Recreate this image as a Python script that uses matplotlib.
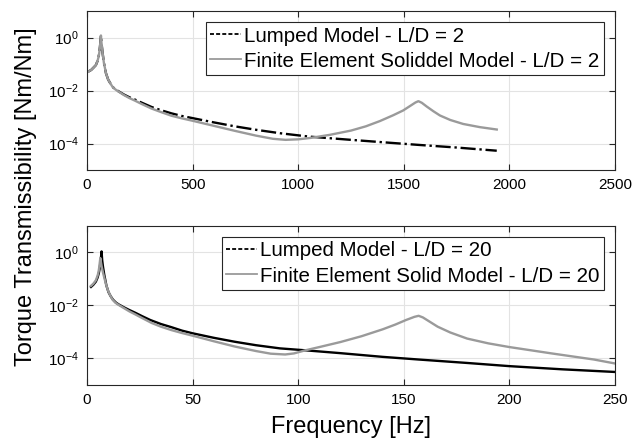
import numpy as np
import matplotlib
matplotlib.use("Agg")
import matplotlib.pyplot as plt
from matplotlib.lines import Line2D
from matplotlib.ticker import NullLocator

plt.rcParams['font.family'] = ['Liberation Sans', 'DejaVu Sans']
plt.rcParams['mathtext.fontset'] = 'custom'
plt.rcParams['mathtext.rm'] = 'Liberation Sans'
plt.rcParams['mathtext.default'] = 'regular'

# values, as log10 of the transmissibility
top_freq_lumped = [5, 20, 30, 42, 50, 55, 58, 61.5, 64, 66, 68, 70, 74, 80, 90, 100, 110, 121,
                   135, 150, 175, 200, 227, 260, 306, 350, 400, 450, 500, 600, 700, 800, 914,
                   1000, 1056, 1250, 1400, 1569, 1750, 1940]
top_lumped_log = [-1.29, -1.22, -1.14, -1.04, -0.88, -0.72, -0.58, -0.34, -0.12, 0.08, -0.15,
                  -0.30, -0.59, -0.95, -1.35, -1.58, -1.72, -1.86, -1.96, -2.03, -2.15, -2.25,
                  -2.34, -2.46, -2.62, -2.74, -2.86, -2.96, -3.04, -3.20, -3.35, -3.48, -3.61,
                  -3.69, -3.74, -3.86, -3.95, -4.05, -4.15, -4.27]

top_freq_fe = [5, 20, 30, 42, 50, 55, 58, 61.5, 64, 66, 68, 70, 74, 80, 90, 100, 110, 121,
               135, 150, 175, 200, 227, 260, 306, 350, 400, 450, 500, 600, 700, 800, 880,
               940, 1000, 1056, 1150, 1250, 1320, 1387, 1450, 1497, 1530, 1555, 1569, 1585,
               1608, 1640, 1671, 1720, 1781, 1860, 1940]
top_fe_log = [-1.29, -1.22, -1.14, -1.04, -0.88, -0.72, -0.58, -0.34, -0.12, 0.08, -0.15,
              -0.30, -0.59, -0.95, -1.35, -1.58, -1.72, -1.86, -1.96, -2.04, -2.17, -2.28,
              -2.38, -2.51, -2.68, -2.81, -2.95, -3.05, -3.14, -3.33, -3.52, -3.70, -3.82,
              -3.86, -3.84, -3.79, -3.67, -3.51, -3.35, -3.15, -2.93, -2.75, -2.58, -2.45,
              -2.40, -2.46, -2.60, -2.78, -2.94, -3.11, -3.26, -3.38, -3.47]

bot_freq_lumped = [1.9, 3.0, 4.2, 5.0, 5.6, 6.0, 6.4, 6.7, 6.9, 7.2, 7.6, 8.2, 9.2, 10.2,
                   11.2, 12.3, 13.7, 15, 17.5, 20, 23, 26, 30, 35, 40, 45, 50, 60, 70, 80,
                   91.4, 103, 120, 140, 157, 180, 200, 225, 250]
bot_lumped_log = [-1.30, -1.22, -1.10, -0.95, -0.78, -0.60, -0.35, -0.12, 0.04, -0.30, -0.55,
                  -0.85, -1.25, -1.50, -1.65, -1.78, -1.89, -1.96, -2.07, -2.17, -2.28, -2.40,
                  -2.55, -2.70, -2.82, -2.95, -3.05, -3.22, -3.37, -3.50, -3.62, -3.69, -3.80,
                  -3.94, -4.04, -4.17, -4.29, -4.41, -4.51]

bot_freq_fe = [1.9, 3.0, 4.2, 5.0, 5.5, 5.8, 6.1, 6.3, 6.5, 7.0, 7.7, 9.0, 10, 11, 12.1,
               13.5, 15, 17.5, 20, 22.7, 26, 30.6, 35, 40, 45, 50, 60, 70, 80, 87, 93.8, 98,
               103, 110, 120, 130, 140, 146, 151, 155, 157, 159, 162, 166, 172, 180, 190,
               200, 220, 240, 250]
bot_fe_log = [-1.26, -1.18, -1.05, -0.88, -0.72, -0.55, -0.35, -0.21, -0.32, -0.55, -0.80,
              -1.20, -1.45, -1.62, -1.78, -1.90, -1.98, -2.10, -2.22, -2.33, -2.47, -2.66,
              -2.80, -2.93, -3.04, -3.14, -3.35, -3.55, -3.72, -3.82, -3.85, -3.81, -3.70,
              -3.57, -3.38, -3.16, -2.90, -2.72, -2.55, -2.43, -2.39, -2.45, -2.60, -2.80,
              -3.02, -3.25, -3.43, -3.57, -3.81, -4.04, -4.19]

gray = '#9a9a9a'

fig = plt.figure(figsize=(6.42, 4.44), dpi=100)
ax1 = fig.add_axes([0.1355, 0.617, 0.8225, 0.358])
ax2 = fig.add_axes([0.1355, 0.133, 0.8225, 0.358])


def style_axes(ax, xmax, xstep):
    ax.set_yscale('log')
    ax.set_xlim(0, xmax)
    ax.set_ylim(1e-5, 1e1)
    ax.set_xticks(np.arange(0, xmax + 1, xstep))
    ax.set_yticks([1e-4, 1e-2, 1e0])
    ax.yaxis.set_minor_locator(NullLocator())
    ax.grid(True, color='#e3e3e3', linewidth=0.8)
    ax.set_axisbelow(True)
    ax.tick_params(direction='in', length=4, width=0.8, top=True, right=True,
                   labelsize=11, colors='#262626', labelcolor='black')
    ax.tick_params(axis='x', pad=6)
    ax.tick_params(axis='y', pad=6)
    for s in ax.spines.values():
        s.set_color('#262626')
        s.set_linewidth(0.8)


ax1.plot(top_freq_lumped, 10.0 ** np.array(top_lumped_log), color='black', ls='-.', lw=1.7)
ax1.plot(top_freq_fe, 10.0 ** np.array(top_fe_log), color=gray, lw=1.7)
style_axes(ax1, 2500, 500)

ax2.plot(bot_freq_lumped, 10.0 ** np.array(bot_lumped_log), color='black', lw=1.7)
ax2.plot(bot_freq_fe, 10.0 ** np.array(bot_fe_log), color=gray, lw=1.7)
style_axes(ax2, 250, 50)

leg_kw = dict(loc='upper right', fontsize=14.8, fancybox=False, framealpha=1,
              edgecolor='#262626', borderpad=0.2, labelspacing=0.3, handlelength=1.5,
              handletextpad=0.15, borderaxespad=0.55)
proxies = [Line2D([], [], color='black', ls=(0, (2.2, 1.2)), lw=1.3),
           Line2D([], [], color=gray, lw=1.3)]

lg1 = ax1.legend(proxies, ['Lumped Model - L/D = 2', 'Finite Element Soliddel Model - L/D = 2'],
                 **leg_kw)
lg1.get_frame().set_linewidth(0.8)

lg2 = ax2.legend(proxies, ['Lumped Model - L/D = 20', 'Finite Element Solid Model - L/D = 20'],
                 **leg_kw)
lg2.get_frame().set_linewidth(0.8)

ax2.set_xlabel('Frequency [Hz]', fontsize=17, labelpad=6)
fig.text(0.04, 0.557, 'Torque Transmissibility [Nm/Nm]', rotation=90, fontsize=17,
         ha='center', va='center')

fig.savefig('out.png', dpi=100)
